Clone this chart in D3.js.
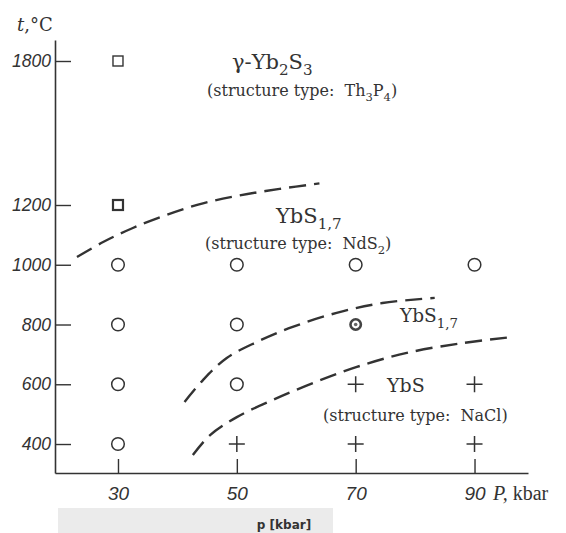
<!DOCTYPE html>
<html>
<head>
<meta charset="utf-8">
<script src="https://cdn.jsdelivr.net/npm/d3@7"></script>
<style>
  body { margin: 0; background: #fff; }
  svg { display: block; }
  text { white-space: pre; }
</style>
</head>
<body>
<script>
// Yb-S phase diagram, t (°C) vs P (kbar)
const W = 566, H = 533;

const pressureTicks = [30, 50, 70, 90];
const tempTicks = [400, 600, 800, 1000, 1200, 1800];

// experimental points
const squarePts = [[30, 1800], [30, 1200]];
const circlePts = [[30, 1000], [50, 1000], [70, 1000], [90, 1000],
                   [30, 800], [50, 800], [30, 600], [50, 600], [30, 400]];
const ringPts = [[70, 800]];
const plusPts = [[70, 600], [90, 600], [50, 400], [70, 400], [90, 400]];

// phase boundaries
const boundaryTop = [[23.1, 1026], [27.5, 1076], [32.5, 1123], [38.2, 1167],
                     [44.3, 1207], [50.5, 1240], [57.2, 1267], [63.9, 1290]];
const boundaryMid = [[41.2, 541], [44.3, 614], [48.3, 688], [53.3, 741],
                     [59.4, 792], [66.8, 839], [74.5, 872], [83.3, 889]];
const boundaryLow = [[42.6, 363], [45.5, 430], [50.0, 490], [56.0, 547],
                     [62.8, 604], [70.2, 658], [78.6, 705], [88.0, 738], [96.4, 758]];

const ink = "#333";

const svg = d3.select("body").append("svg")
    .attr("width", W)
    .attr("height", H);

// x: pressure, y: temperature (axis is broken above 1200)
const x = d3.scaleLinear().domain([19.4, 99.0]).range([55, 528]);
const y = d3.scaleLinear().domain([303, 1200, 1800, 1888]).range([473, 205, 61, 40]);

const axisFont = "'Liberation Sans', Arial, sans-serif";
const serif = "'DejaVu Serif', serif";

// y axis
const gy = svg.append("g")
    .attr("transform", "translate(" + x(19.4) + ",0)")
    .call(d3.axisLeft(y).tickValues(tempTicks).tickSizeInner(-16).tickSizeOuter(0).tickPadding(4)
        .tickFormat(d3.format("d")));
gy.select(".domain").attr("stroke", ink).attr("stroke-width", 1.6);
gy.selectAll(".tick line").attr("stroke", ink).attr("stroke-width", 1.4);
gy.selectAll(".tick text")
    .attr("fill", ink)
    .attr("font-family", axisFont)
    .attr("font-style", "italic")
    .attr("font-size", "17.5px");

// x axis
const gx = svg.append("g")
    .attr("transform", "translate(0," + y(303) + ")")
    .call(d3.axisBottom(x).tickValues(pressureTicks).tickSizeInner(-14).tickSizeOuter(0).tickPadding(14));
gx.select(".domain").attr("stroke", ink).attr("stroke-width", 1.6);
gx.selectAll(".tick line").attr("stroke", ink).attr("stroke-width", 1.4);
gx.selectAll(".tick text")
    .attr("fill", ink)
    .attr("font-family", axisFont)
    .attr("font-style", "italic")
    .attr("font-size", "19px");

// axis titles
const yt = svg.append("text")
    .attr("x", 17).attr("y", 31)
    .attr("font-family", serif).attr("font-size", "18px").attr("fill", ink);
yt.append("tspan").attr("font-style", "italic").text("t");
yt.append("tspan").text(",°C");

const xt = svg.append("text")
    .attr("x", 493).attr("y", 500)
    .attr("font-family", "'Liberation Serif', serif").attr("font-size", "20px").attr("fill", ink);
xt.append("tspan").attr("font-style", "italic").text("P,");
xt.append("tspan").text(" kbar");

// gray strip under the chart
svg.append("rect")
    .attr("x", 58).attr("y", 508)
    .attr("width", 275).attr("height", 25)
    .attr("fill", "#ebebeb");
svg.append("text")
    .attr("x", 284).attr("y", 529)
    .attr("text-anchor", "middle")
    .attr("font-family", "'DejaVu Sans', sans-serif")
    .attr("font-weight", "bold")
    .attr("font-size", "12px")
    .attr("fill", "#333")
    .text("p [kbar]");

// dashed boundaries
const line = d3.line()
    .x(d => x(d[0]))
    .y(d => y(d[1]))
    .curve(d3.curveCatmullRom);

svg.selectAll("path.boundary")
    .data([boundaryTop, boundaryMid, boundaryLow])
    .enter()
    .append("path")
    .attr("class", "boundary")
    .attr("d", line)
    .attr("fill", "none")
    .attr("stroke", ink)
    .attr("stroke-width", 2.4)
    .attr("stroke-dasharray", "17,8");

// markers
svg.selectAll("rect.sq")
    .data(squarePts)
    .enter()
    .append("rect")
    .attr("class", "sq")
    .attr("x", d => x(d[0]) - 5)
    .attr("y", d => y(d[1]) - 5)
    .attr("width", 10)
    .attr("height", 10)
    .attr("fill", "none")
    .attr("stroke", ink)
    .attr("stroke-width", (d, i) => i === 1 ? 2.2 : 1.4);

svg.selectAll("circle.open")
    .data(circlePts)
    .enter()
    .append("circle")
    .attr("class", "open")
    .attr("cx", d => x(d[0]))
    .attr("cy", d => y(d[1]))
    .attr("r", 6.3)
    .attr("fill", "none")
    .attr("stroke", ink)
    .attr("stroke-width", 1.5);

const ring = svg.selectAll("g.ring")
    .data(ringPts)
    .enter()
    .append("g")
    .attr("class", "ring")
    .attr("transform", d => "translate(" + x(d[0]) + "," + y(d[1]) + ")");
ring.append("circle").attr("r", 5.2).attr("fill", "none").attr("stroke", "#444").attr("stroke-width", 2.6);
ring.append("circle").attr("r", 1.8).attr("fill", "#666");

svg.selectAll("path.plus")
    .data(plusPts)
    .enter()
    .append("path")
    .attr("class", "plus")
    .attr("d", d => {
        const cx = x(d[0]), cy = y(d[1]);
        return "M" + (cx - 8) + "," + cy + "H" + (cx + 8) + "M" + cx + "," + (cy - 8) + "V" + (cy + 8);
    })
    .attr("stroke", ink)
    .attr("stroke-width", 1.5);

// phase labels
function label(px, py, parts, size) {
    const t = svg.append("text")
        .attr("x", px).attr("y", py)
        .attr("font-family", serif)
        .attr("font-size", size + "px")
        .attr("fill", ink);
    parts.forEach(p => {
        const s = t.append("tspan").text(p[0]);
        if (p[1] === "sub") s.attr("dy", size * 0.3).attr("font-size", (size * 0.72) + "px");
        if (p[1] === "up") s.attr("dy", -size * 0.3);
    });
    return t;
}

label(232, 69, [["γ-Yb"], ["2", "sub"], ["S", "up"], ["3", "sub"]], 21);
label(207, 96, [["(structure type:  Th"], ["3", "sub"], ["P", "up"], ["4", "sub"], [")", "up"]], 16);

label(276, 223, [["YbS"], ["1,7", "sub"]], 21);
label(205, 249, [["(structure type:  NdS"], ["2", "sub"], [")", "up"]], 16);

label(400, 322, [["YbS"], ["1,7", "sub"]], 18.5);

label(387, 392, [["YbS"]], 19);
label(323, 421, [["(structure type:  NaCl)"]], 16);
</script>
</body>
</html>
